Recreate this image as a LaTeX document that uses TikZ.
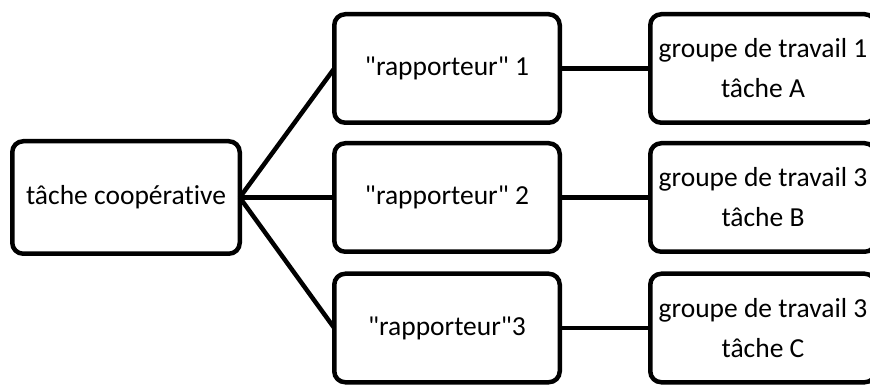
\documentclass[tikz,border=0pt]{standalone}
\usepackage{fontspec}
\setmainfont{Carlito}[Ligatures={TeXOff,NoCommon}]
\begin{document}
\begin{tikzpicture}[x=1pt,y=1pt,
  box/.style={draw=black, line width=4.5pt, rounded corners=11pt, fill=white,
    align=center, inner sep=0pt, outer sep=0pt,
    font=\fontsize{27.5}{40}\selectfont},
  wide/.style={minimum width=227.5pt, minimum height=112.5pt},
  mid/.style={minimum width=225.5pt, minimum height=108.5pt},
  conn/.style={line width=4.5pt}]
\clip (0,0) rectangle (870,-387);
\node[box,wide] (t) at (126,-197.5) {tâche coopérative};
\node[box,mid] (m1) at (447,-68.5) {"rapporteur" 1};
\node[box,mid] (m2) at (447,-197.5) {"rapporteur" 2};
\node[box,mid] (m3) at (447,-328) {"rapporteur"3};
\node[box,mid] (r1) at (763,-68.5) {groupe de travail 1\\tâche A};
\node[box,mid] (r2) at (763,-197.5) {groupe de travail 3\\tâche B};
\node[box,mid] (r3) at (763,-328) {groupe de travail 3\\tâche C};
\draw[conn] (t.east) -- (m1.west);
\draw[conn] (t.east) -- (m2.west);
\draw[conn] (t.east) -- (m3.west);
\draw[conn] (m1.east) -- (r1.west);
\draw[conn] (m2.east) -- (r2.west);
\draw[conn] (m3.east) -- (r3.west);
\end{tikzpicture}
\end{document}
